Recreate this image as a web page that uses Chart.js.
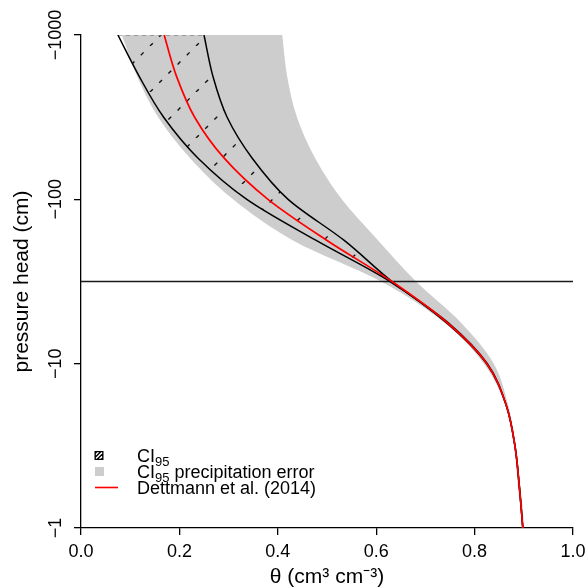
<!DOCTYPE html>
<html>
<head>
<meta charset="utf-8">
<script src="https://cdn.jsdelivr.net/npm/chart.js@4.4.0/dist/chart.umd.min.js"></script>
<style>
   body { margin: 0; background: #fff; }
</style>
</head>
<body>
<canvas id="myChart" width="586" height="588"></canvas>
<script>
"use strict";

// pressure head (cm) levels the curves were read at
const pressureHead = [-1000, -562, -316, -178, -100, -56.2, -31.6, -17.8, -10, -5.62, -3.16, -1.78, -1];
// theta (cm3 cm-3) at each head level
const dettmann = [0.169, 0.194, 0.231, 0.291, 0.38, 0.5, 0.632, 0.744, 0.825, 0.864, 0.882, 0.891, 0.898];
const ciLower = [0.075, 0.118, 0.168, 0.238, 0.337, 0.478, 0.628, 0.742, 0.824, 0.864, 0.882, 0.891, 0.898];
const ciUpper = [0.25, 0.268, 0.297, 0.348, 0.421, 0.535, 0.632, 0.746, 0.826, 0.864, 0.882, 0.891, 0.898];
const precipLower = [0.083, 0.114, 0.157, 0.222, 0.309, 0.431, 0.61, 0.738, 0.819, 0.862, 0.88, 0.888, 0.896];
const precipUpper = [0.409, 0.419, 0.439, 0.476, 0.53, 0.604, 0.681, 0.772, 0.839, 0.868, 0.884, 0.893, 0.9];
const refHead = -31.6;

const thetaTicks = [0, 0.2, 0.4, 0.6, 0.8, 1.0];
const headTicks = [-1, -10, -100, -1000];

const family = '"Liberation Sans", Arial, Helvetica, sans-serif';

// log axis runs on |h|, labels put the minus back
const curve = (theta) => theta.map((t, i) => ({ x: t, y: -pressureHead[i] }));
const band = (right, left) => curve(right).concat(curve(left).reverse());

// curves are smooth in theta(log h), so interpolate along y
const smooth = { indexAxis: "y", cubicInterpolationMode: "monotone" };

// diagonal dashed hatching like R's density fill
const makeHatch = function () {
   const size = 46;
   const c = document.createElement("canvas");
   c.width = size;
   c.height = size;
   const g = c.getContext("2d");
   g.strokeStyle = "#111";
   g.lineWidth = 1.4;
   const period = (size * Math.SQRT2) / 5;
   g.setLineDash([4, period - 4]);
   for (const dx of [-size, 0, size]) {
      g.beginPath();
      g.moveTo(12 + dx, size);
      g.lineTo(12 + size + dx, 0);
      g.stroke();
   }
   return g.createPattern(c, "repeat");
};

const legendPlugin = {
   id: "ciLegend",
   afterDraw(chart) {
      const ctx = chart.ctx;
      const area = chart.chartArea;
      const sx = area.left + 14;
      const tx = area.left + 56;
      const rows = [area.bottom - 72.5, area.bottom - 56.5, area.bottom - 40.5];
      ctx.save();
      // hatched box
      ctx.fillStyle = "#fff";
      ctx.fillRect(sx, rows[0] - 4, 8, 8);
      ctx.strokeStyle = "#000";
      ctx.lineWidth = 1.4;
      ctx.beginPath();
      for (const k of [-3, 1, 5, 9]) {
         ctx.moveTo(sx + k - 3, rows[0] + 4);
         ctx.lineTo(sx + k + 5, rows[0] - 4);
      }
      ctx.save();
      ctx.rect(sx, rows[0] - 4, 8, 8);
      ctx.clip();
      ctx.stroke();
      ctx.restore();
      ctx.lineWidth = 1;
      ctx.strokeRect(sx, rows[0] - 4, 8, 8);
      // grey box
      ctx.fillStyle = "#cdcdcd";
      ctx.fillRect(sx, rows[1] - 4.5, 9, 9);
      // red line
      ctx.strokeStyle = "red";
      ctx.lineWidth = 1.6;
      ctx.beginPath();
      ctx.moveTo(sx, rows[2]);
      ctx.lineTo(sx + 23, rows[2]);
      ctx.stroke();
      // labels
      ctx.fillStyle = "#000";
      ctx.textBaseline = "alphabetic";
      const big = "18px " + family;
      const small = "13px " + family;
      const parts = [
         ["CI", "95", ""],
         ["CI", "95", " precipitation error"],
         ["Dettmann et al. (2014)", "", ""],
      ];
      parts.forEach((p, i) => {
         const base = rows[i] + 6.5;
         let x = tx;
         ctx.font = big;
         ctx.fillText(p[0], x, base);
         x += ctx.measureText(p[0]).width;
         if (p[1]) {
            ctx.font = small;
            ctx.fillText(p[1], x, base + 4.2);
            x += ctx.measureText(p[1]).width;
         }
         if (p[2]) {
            ctx.font = big;
            ctx.fillText(p[2], x, base);
         }
      });
      ctx.restore();
   },
};

const ctx = document.getElementById("myChart").getContext("2d");
const myChart = new Chart(ctx, {
   type: "line",
   data: {
      datasets: [
         {
            label: "Dettmann et al. (2014)",
            data: curve(dettmann),
            borderColor: "red",
            borderWidth: 1.7,
            ...smooth,
            order: 1,
         },
         {
            label: "CI95 lower",
            data: curve(ciLower),
            borderColor: "#000",
            borderWidth: 1.5,
            ...smooth,
            order: 2,
         },
         {
            label: "CI95 upper",
            data: curve(ciUpper),
            borderColor: "#000",
            borderWidth: 1.5,
            ...smooth,
            order: 2,
         },
         {
            label: "reference head",
            data: [
               { x: thetaTicks[0], y: -refHead },
               { x: thetaTicks[thetaTicks.length - 1], y: -refHead },
            ],
            borderColor: "#1a1a1a",
            borderWidth: 1.5,
            order: 3,
         },
         {
            label: "CI95 top",
            data: [
               { x: ciLower[0], y: -pressureHead[0] },
               { x: ciUpper[0], y: -pressureHead[0] },
            ],
            borderColor: "#777",
            borderWidth: 1.2,
            borderDash: [4, 4],
            order: 4,
         },
         {
            label: "CI95",
            data: band(ciUpper, ciLower),
            borderColor: "transparent",
            borderWidth: 1,
            backgroundColor: makeHatch(),
            fill: "shape",
            ...smooth,
            order: 5,
         },
         {
            label: "CI95 precipitation error",
            data: band(precipUpper, precipLower),
            borderColor: "transparent",
            borderWidth: 1,
            backgroundColor: "#cdcdcd",
            fill: "shape",
            ...smooth,
            order: 6,
         },
      ],
   },
   options: {
      responsive: false,
      animation: false,
      devicePixelRatio: 1,
      layout: { padding: { left: 0, top: 35, right: 13, bottom: 0 } },
      elements: { point: { radius: 0, hoverRadius: 0 } },
      plugins: {
         legend: { display: false },
         tooltip: { enabled: false },
      },
      scales: {
         x: {
            type: "linear",
            min: 0,
            max: 1,
            afterBuildTicks: (s) => {
               s.ticks = thetaTicks.map((v) => ({ value: v }));
            },
            afterFit: (s) => {
               s.height = 60;
               s.paddingLeft = 0;
               s.paddingRight = 0;
            },
            ticks: {
               callback: (v) => v.toFixed(1),
               color: "#000",
               padding: 6,
               maxRotation: 0,
               font: { size: 18, family: family },
            },
            grid: { drawOnChartArea: false, tickLength: 7, color: "#000", lineWidth: 1.3 },
            border: { display: true, color: "#000", width: 1.3 },
            title: {
               display: true,
               text: "θ (cm³ cm⁻³)",
               color: "#000",
               font: { size: 21, family: family, lineHeight: 1 },
               padding: { top: 0, bottom: 0.5 },
            },
         },
         y: {
            type: "logarithmic",
            min: 1,
            max: 1000,
            afterBuildTicks: (s) => {
               s.ticks = headTicks.map((v) => ({ value: -v }));
            },
            afterFit: (s) => {
               s.width = 81;
               s.paddingTop = 0;
               s.paddingBottom = 0;
            },
            ticks: {
               callback: (v) => "\u2212" + v,
               color: "#000",
               minRotation: 90,
               maxRotation: 90,
               crossAlign: "center",
               padding: -7,
               font: { size: 18, family: family },
            },
            grid: { drawOnChartArea: false, tickLength: 7, color: "#000", lineWidth: 1.3 },
            border: { display: true, color: "#000", width: 1.3 },
            title: {
               display: true,
               text: "pressure head (cm)",
               color: "#000",
               font: { size: 21, family: family, lineHeight: 1 },
               padding: { top: 11.5, bottom: 0 },
            },
         },
      },
   },
   plugins: [legendPlugin],
});
</script>
</body>
</html>
